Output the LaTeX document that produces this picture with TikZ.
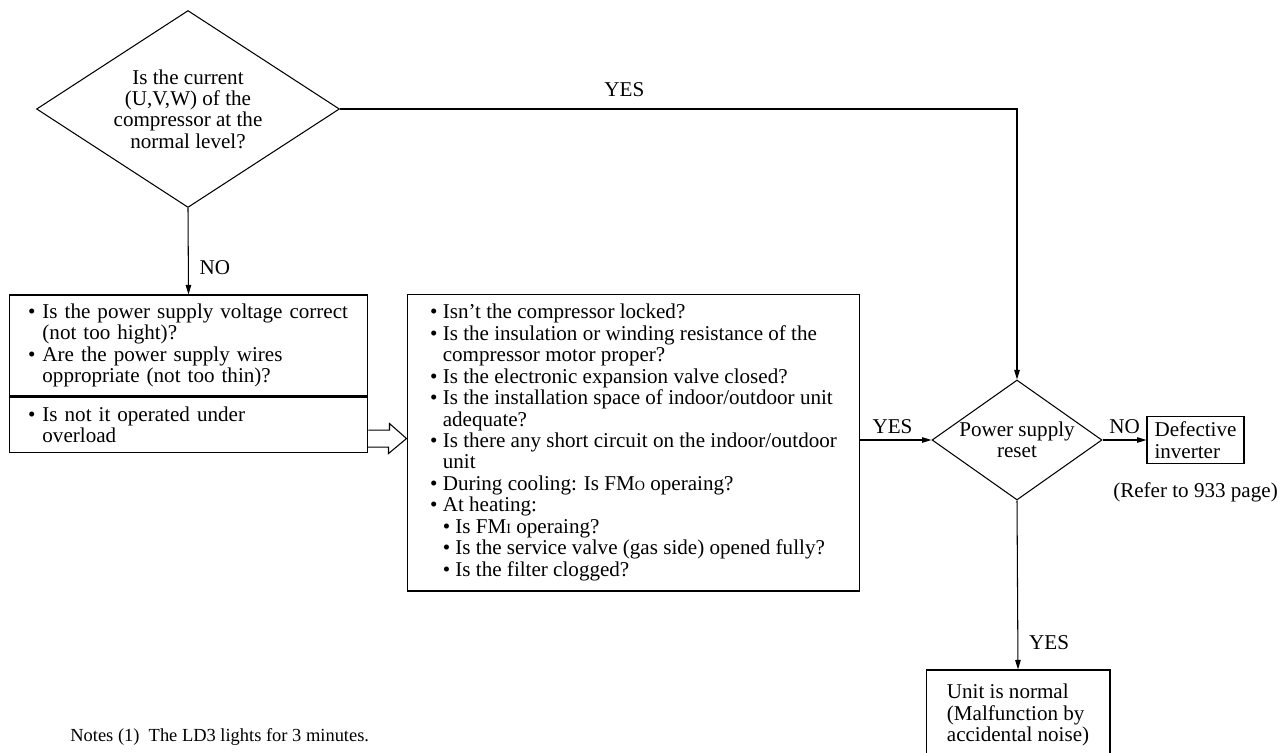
\documentclass[tikz,border=0pt]{standalone}
\usepackage{fontspec}
\setmainfont{Liberation Serif}
\usetikzlibrary{arrows.meta,positioning,shapes.geometric}
\newcommand{\bl}{\textbullet\ }
\newcommand{\ind}{\phantom{\textbullet\ }}
\newcommand{\sm}[1]{{\fontsize{8}{8}\selectfont #1}}

\begin{document}
\begin{tikzpicture}[x=0.02cm,y=-0.02cm,
  every node/.style={font=\fontsize{12}{12.2}\selectfont},
  box/.style={draw,line width=0.6pt,align=left,inner sep=0pt},
  dia/.style={draw,diamond,line width=0.6pt,align=center,inner sep=0pt},
  arr/.style={-{Triangle[length=1.9mm,width=1.1mm]},line width=0.6pt}]
\useasboundingbox (0,0) rectangle (1284,753);
\node[dia,aspect=1.54,minimum width=6.06cm,minimum height=3.94cm] (cur) at (188,109) {Is the current\\(U,V,W) of the\\compressor at the\\normal level?};
\node[box,text width=6.42cm,inner xsep=0.38cm,minimum height=2.02cm] (volt) at (188.5,345.5) {\bl Is the power supply voltage correct\\\ind(not too hight)?\\\bl Are the power supply wires\\\ind oppropriate (not too thin)?};
\node[box,text width=6.42cm,inner xsep=0.38cm,minimum height=1.1cm,anchor=north] (load) at (volt.south) {\bl Is not it operated under\\\ind overload};
\node[box,minimum width=9.06cm,minimum height=5.94cm] (chk) at (633.5,442.5) {\bl Isn't the compressor locked?\\\bl Is the insulation or winding resistance of the\\\ind compressor motor proper?\\\bl Is the electronic expansion valve closed?\\\bl Is the installation space of indoor/outdoor unit\\\ind adequate?\\\bl Is there any short circuit on the indoor/outdoor\\\ind unit\\\bl During cooling: Is FM\sm{O} operaing?\\\bl At heating:\\\ind\bl Is FM\sm{I} operaing?\\\ind\bl Is the service valve (gas side) opened fully?\\\ind\bl Is the filter clogged?};
\node[dia,aspect=1.42,minimum width=3.4cm,minimum height=2.4cm] (rst) at (1017,440) {Power supply\\reset};
\node[box,minimum width=1.94cm,minimum height=0.94cm] (inv) at (1195.5,440) {Defective\\inverter};
\node[below=7pt of inv] (ref) {(Refer to 933 page)};
\node[box,minimum width=3.68cm,minimum height=1.8cm] (ok) at (1018,715) {Unit is normal\\(Malfunction by\\accidental noise)};
\node[anchor=west,inner sep=0pt,font=\fontsize{10.5}{12}\selectfont] (note) at (70,737) {Notes (1)\ \ The LD3 lights for 3 minutes.};
% connectors
\draw[arr] (cur.east) -- node[above=0.12cm,pos=0.42]{YES} (cur.east -| rst.north) -- (rst.north);
\draw[arr] (cur.south) -- node[right=0.1cm,pos=0.69]{NO} (volt.north);
\draw[arr] (chk.east |- rst.west) -- node[above,pos=0.45]{YES} (rst.west);
\draw[arr] (rst.east) -- node[above]{NO} (inv.west);
\draw[arr] (rst.south) -- node[right=0.1cm,pos=0.84]{YES} (ok.north);
% hollow arrow
\coordinate (ha) at ([yshift=-0.28cm]load.east);
\draw[line width=0.6pt] (ha) ++(0,-8.5) -- ++(21,0) -- ++(0,-6.5) -- (ha -| chk.west) -- ++(-18,15) -- ++(0,-6.5) -- ++(-21,0);
\end{tikzpicture}
\end{document}
